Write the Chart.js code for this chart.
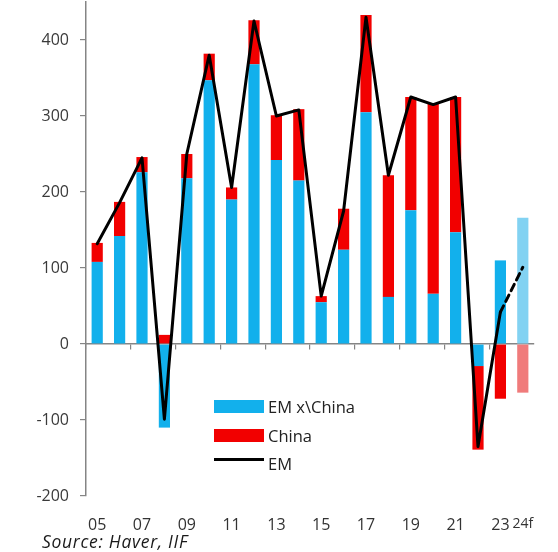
<!DOCTYPE html>
<html>
<head>
<meta charset="utf-8">
<script src="https://cdn.jsdelivr.net/npm/chart.js@4"></script>
<style>
  body { margin: 0; background: #fff; }
  #wrap { position: relative; width: 558px; height: 552px; font-family: "Open Sans", sans-serif; }
  #chart { position: absolute; left: 0; top: 0; }
  .leg { position: absolute; left: 214px; font-size: 16.5px; color: #222; line-height: 18px; }
  .leg span.sw { position: absolute; left: 0; width: 50px; }
  .leg span.tx { position: absolute; left: 54px; white-space: nowrap; }
  #source { position: absolute; left: 42px; top: 529px; font-size: 17.5px; letter-spacing: 0.7px; font-style: italic; color: #1a1a1a; }
</style>
</head>
<body>
<div id="wrap">
  <canvas id="chart" width="558" height="552"></canvas>
  <div class="leg" style="top:398px"><span class="sw" style="top:2px;height:13px;background:#12b0ec"></span><span class="tx">EM x\China</span></div>
  <div class="leg" style="top:427px"><span class="sw" style="top:2px;height:13px;background:#f20000"></span><span class="tx">China</span></div>
  <div class="leg" style="top:455px"><span class="sw" style="top:3px;height:3px;background:#000"></span><span class="tx">EM</span></div>
  <div id="source">Source: Haver, IIF</div>
</div>
<script>
// years 2005 .. 2024f
const years = ["05", "06", "07", "08", "09", "10", "11", "12", "13", "14",
  "15", "16", "17", "18", "19", "20", "21", "22", "23", "24f"];

// EM excluding China
const emExChina = [108, 142, 226, -110, 218, 347, 190, 368, 242, 215,
  55, 124, 305, 62, 176, 66, 147, -29, 110, 166];

// China
const china = [25, 45, 20, 12, 32, 35, 16, 58, 59, 94,
  8, 54, 128, 160, 149, 250, 178, -110, -72, -64];

// EM total
const em = [132, 186, 245, -99, 250, 380, 206, 425, 300, 308,
  63, 175, 430, 222, 325, 315, 325, -135, 42, 101];

const yTicks = [-200, -100, 0, 100, 200, 300, 400];

// forecast year gets lighter colours
const last = years.length - 1;
const blueCols = years.map((y, i) => (i === last ? "#82d2f2" : "#12b0ec"));
const redCols = years.map((y, i) => (i === last ? "#f07b7b" : "#f20000"));

const axisGrey = "#858585";

new Chart(document.getElementById("chart"), {
  data: {
    labels: years,
    datasets: [
      {
        type: "bar",
        label: "EM x\\China",
        data: emExChina,
        backgroundColor: blueCols,
        order: 1,
      },
      {
        type: "bar",
        label: "China",
        data: china,
        backgroundColor: redCols,
        order: 1,
      },
      {
        type: "line",
        label: "EM",
        data: em,
        borderColor: "#000",
        borderWidth: 3,
        borderJoinStyle: "round",
        borderCapStyle: "round",
        pointRadius: 0,
        tension: 0,
        order: 0,
        segment: {
          borderDash: (ctx) => (ctx.p0DataIndex === last - 1 ? [7, 5] : undefined),
        },
      },
    ],
  },
  options: {
    responsive: false,
    animation: false,
    events: [],
    layout: { padding: { top: 2, right: 24, left: 0, bottom: 0 } },
    datasets: {
      bar: { categoryPercentage: 1, barPercentage: 0.5 },
    },
    plugins: {
      legend: { display: false },
      tooltip: { enabled: false },
    },
    scales: {
      x: {
        type: "category",
        stacked: true,
        offset: true,
        grid: { display: false },
        border: { display: false },
        ticks: {
          autoSkip: false,
          maxRotation: 0,
          padding: 12,
          color: "#333",
          font: (ctx) => ({ family: "Open Sans", size: ctx.index === last ? 14 : 16 }),
          callback: (v, i) => (i % 2 === 0 || i === last ? years[i] : ""),
        },
        afterFit: (scale) => {
          scale.height = 56;
          scale.paddingRight = 0;
          scale.paddingLeft = 0;
        },
      },
      // zero line with its small tick marks
      x0: {
        type: "category",
        axis: "x",
        position: { y: 0 },
        offset: true,
        ticks: { display: false },
        border: { display: true, color: axisGrey, width: 1.5 },
        grid: {
          offset: true,
          drawOnChartArea: false,
          drawTicks: true,
          tickLength: 5,
          lineWidth: 1.2,
          color: (ctx) => (ctx.index % 2 === 0 ? axisGrey : "rgba(0,0,0,0)"),
        },
        afterFit: (scale) => {
          scale.height = 0;
        },
      },
      y: {
        stacked: true,
        min: -200,
        max: 450,
        afterBuildTicks: (scale) => {
          scale.ticks = yTicks.map((v) => ({ value: v }));
        },
        afterFit: (scale) => {
          scale.width = 86;
          scale.paddingTop = 0;
          scale.paddingBottom = 0;
        },
        border: { display: true, color: axisGrey, width: 1.5 },
        grid: {
          drawOnChartArea: false,
          drawTicks: true,
          tickLength: 6,
          color: axisGrey,
          lineWidth: 1.2,
        },
        ticks: {
          padding: 11,
          color: "#3a3a3a",
          font: { family: "Open Sans", size: 16 },
        },
      },
    },
  },
});
</script>
</body>
</html>
